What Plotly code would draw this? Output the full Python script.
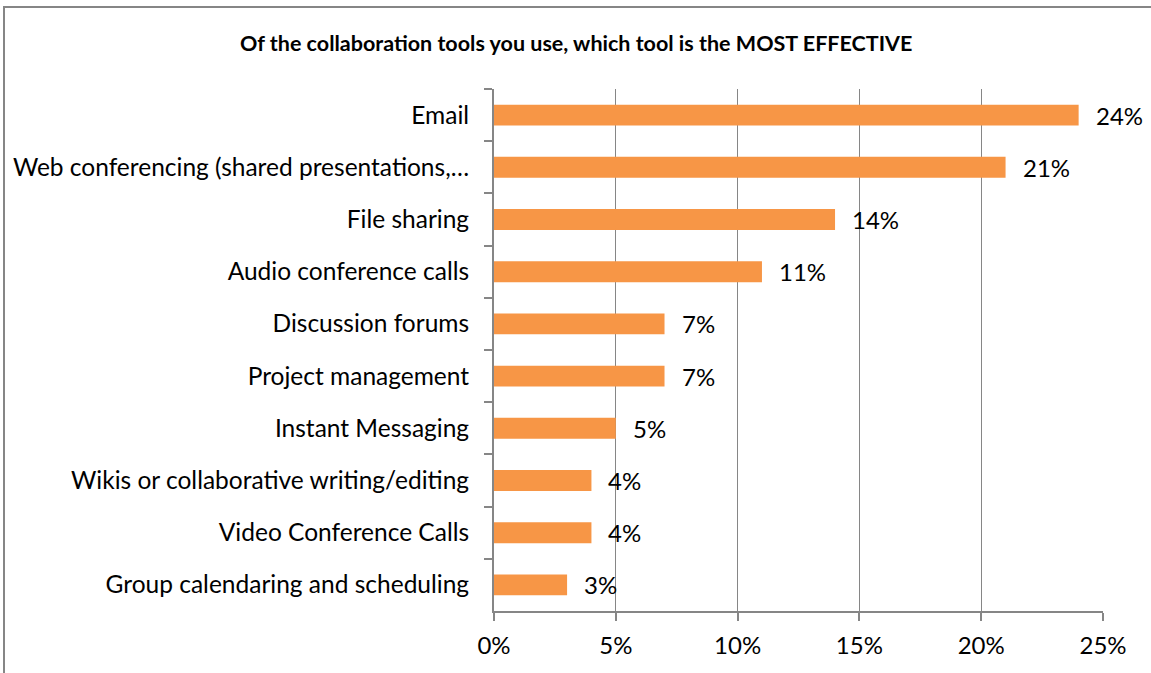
import plotly.graph_objects as go

categories = [
    "Email",
    "Web conferencing (shared presentations,…",
    "File sharing",
    "Audio conference calls",
    "Discussion forums",
    "Project management",
    "Instant Messaging",
    "Wikis or collaborative writing/editing",
    "Video Conference Calls",
    "Group calendaring and scheduling",
]
values = [24, 21, 14, 11, 7, 7, 5, 4, 4, 3]
x_ticks = [0, 5, 10, 15, 20, 25]
x_tick_labels = ["0%", "5%", "10%", "15%", "20%", "25%"]
title_text = "Of the collaboration tools you use, which tool is the MOST EFFECTIVE"

FONT = "Lato"
FS = 24
GREY = "#868686"

fig = go.Figure(
    go.Bar(
        x=values,
        y=categories,
        orientation="h",
        marker=dict(color="#F79646", line=dict(width=0)),
        hoverinfo="skip",
    )
)

W, H = 1151, 673
L, R, T, B = 494, 48, 89, 62
pw, ph = W - L - R, H - T - B

def px_x(x):
    return (x - L) / pw

def px_y(y):
    return (H - B - y) / ph

annotations = [
    dict(
        x=v,
        y=c,
        xref="x",
        yref="y",
        text=f"{v}%",
        showarrow=False,
        xanchor="left",
        yanchor="middle",
        xshift=15,
        font=dict(family=FONT, size=FS, color="black"),
    )
    for c, v in zip(categories, values)
]
annotations.append(
    dict(
        text="<b>" + title_text + "</b>",
        xref="paper",
        yref="paper",
        x=px_x(576),
        y=px_y(43),
        xanchor="center",
        yanchor="middle",
        showarrow=False,
        font=dict(family=FONT, size=21.5, color="black"),
    )
)

fig.update_layout(
    width=W,
    height=H,
    margin=dict(l=L, r=R, t=T, b=B, pad=0, autoexpand=False),
    paper_bgcolor="white",
    plot_bgcolor="white",
    bargap=0.6,
    showlegend=False,
    font=dict(family=FONT, size=FS, color="black"),
    xaxis=dict(
        range=[0, 25],
        tickvals=x_ticks,
        ticktext=x_tick_labels,
        showgrid=True,
        gridcolor=GREY,
        gridwidth=1,
        zeroline=False,
        showline=True,
        linecolor=GREY,
        linewidth=2,
        ticks="outside",
        ticklen=8,
        tickcolor=GREY,
        tickwidth=2,
        ticklabelstandoff=4,
        automargin=False,
        tickfont=dict(family=FONT, size=FS, color="black"),
        fixedrange=True,
    ),
    yaxis=dict(
        autorange="reversed",
        showgrid=False,
        zeroline=False,
        showline=True,
        linecolor=GREY,
        linewidth=2,
        ticks="outside",
        ticklen=8,
        tickcolor=GREY,
        tickwidth=2,
        tickson="boundaries",
        ticklabelstandoff=18,
        automargin=False,
        tickfont=dict(family=FONT, size=24.5, color="black"),
        fixedrange=True,
    ),
    shapes=[
        dict(
            type="rect",
            xref="paper",
            yref="paper",
            x0=px_x(4),
            x1=px_x(1170),
            y0=px_y(700),
            y1=px_y(7),
            line=dict(color=GREY, width=2),
            fillcolor="rgba(0,0,0,0)",
            layer="below",
        )
    ],
    annotations=annotations,
)

fig.write_html("out.html")
